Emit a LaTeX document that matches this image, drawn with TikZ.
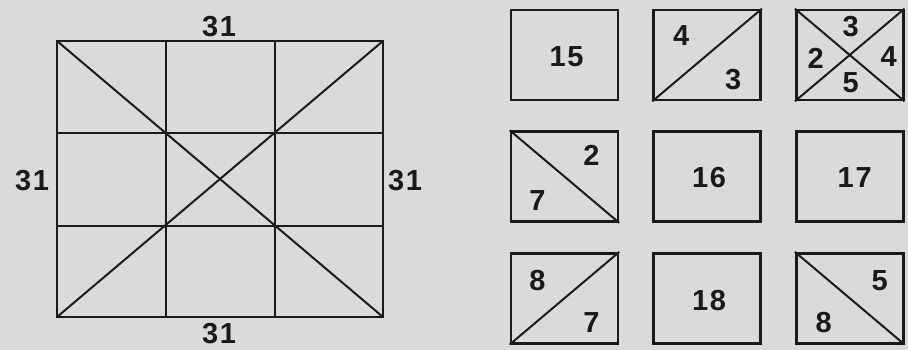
\documentclass[tikz,border=0pt]{standalone}
\usepackage{fontspec}
\setmainfont{Liberation Sans}
\newfontfamily\numfont[LetterSpace=6]{Liberation Sans}
\usetikzlibrary{positioning}
\definecolor{cPaper}{HTML}{DADADA}
\definecolor{cInk}{HTML}{1A1A1A}
\tikzset{
  font=\numfont\bfseries\fontsize{29}{29}\selectfont,
  frame/.style={draw=cInk, line width=2.6pt},
  rule/.style={draw=cInk, line width=2pt},
  cell/.style={rectangle, draw=cInk, line width=2.6pt, minimum width=107pt, minimum height=90pt, inner sep=0pt},
  num/.style={text=cInk, inner sep=0pt},
}

\begin{document}
\begin{tikzpicture}[x=1pt, y=-1pt, node distance=29pt and 33pt]
\fill[cPaper] (0,0) rectangle (908,350);
\useasboundingbox (0,0) rectangle (908,350);
% big square
\coordinate (nw) at (57,41);  \coordinate (ne) at (383,41);
\coordinate (sw) at (57,317); \coordinate (se) at (383,317);
\foreach \x in {166,275} \draw[rule] (\x,41) -- (\x,317);
\foreach \y in {133,226} \draw[rule] (57,\y) -- (383,\y);
\draw[rule] (nw) -- (se); \draw[rule] (sw) -- (ne);
\draw[frame] (nw) rectangle (se);
\node[num] (top) at (219,27) {31};
\node[num] (bot) at (219,334) {31};
\node[num] (lft) at (32,181) {31};
\node[num] (rgt) at (405,181) {31};
% small boxes
\node[cell] (b11) at (564.5,55) {};
\node[cell, right=of b11] (b12) {};
\node[cell, right=of b12] (b13) {};
\node[cell, below=of b11] (b21) {};
\node[cell, right=of b21] (b22) {};
\node[cell, right=of b22] (b23) {};
\node[cell, below=of b21] (b31) {};
\node[cell, right=of b31] (b32) {};
\node[cell, right=of b32] (b33) {};
\draw[rule] (b12.south west) -- (b12.north east);
\draw[rule] (b13.south west) -- (b13.north east);
\draw[rule] (b13.north west) -- (b13.south east);
\draw[rule] (b21.north west) -- (b21.south east);
\draw[rule] (b31.south west) -- (b31.north east);
\draw[rule] (b33.north west) -- (b33.south east);
% numbers
\node[num] (n15) at ([shift={(2,2)}]b11.center) {15};
\node[num] (n4a) at ([shift={(-26,-19)}]b12.center) {4};
\node[num] (n3a) at ([shift={(26,25)}]b12.center) {3};
\node[num] (n3b) at ([shift={(1,-28)}]b13.center) {3};
\node[num] (n2b) at ([shift={(-34,3)}]b13.center) {2};
\node[num] (n4b) at ([shift={(39,2)}]b13.center) {4};
\node[num] (n5b) at ([shift={(1,28)}]b13.center) {5};
\node[num] (n2c) at ([shift={(27,-21)}]b21.center) {2};
\node[num] (n7c) at ([shift={(-27,24)}]b21.center) {7};
\node[num] (n16) at ([shift={(2,1)}]b22.center) {16};
\node[num] (n17) at ([shift={(5,1)}]b23.center) {17};
\node[num] (n8d) at ([shift={(-27,-18)}]b31.center) {8};
\node[num] (n7d) at ([shift={(27,24)}]b31.center) {7};
\node[num] (n18) at ([shift={(2,2)}]b32.center) {18};
\node[num] (n5e) at ([shift={(30,-18)}]b33.center) {5};
\node[num] (n8e) at ([shift={(-26,24)}]b33.center) {8};
\end{tikzpicture}
\end{document}
